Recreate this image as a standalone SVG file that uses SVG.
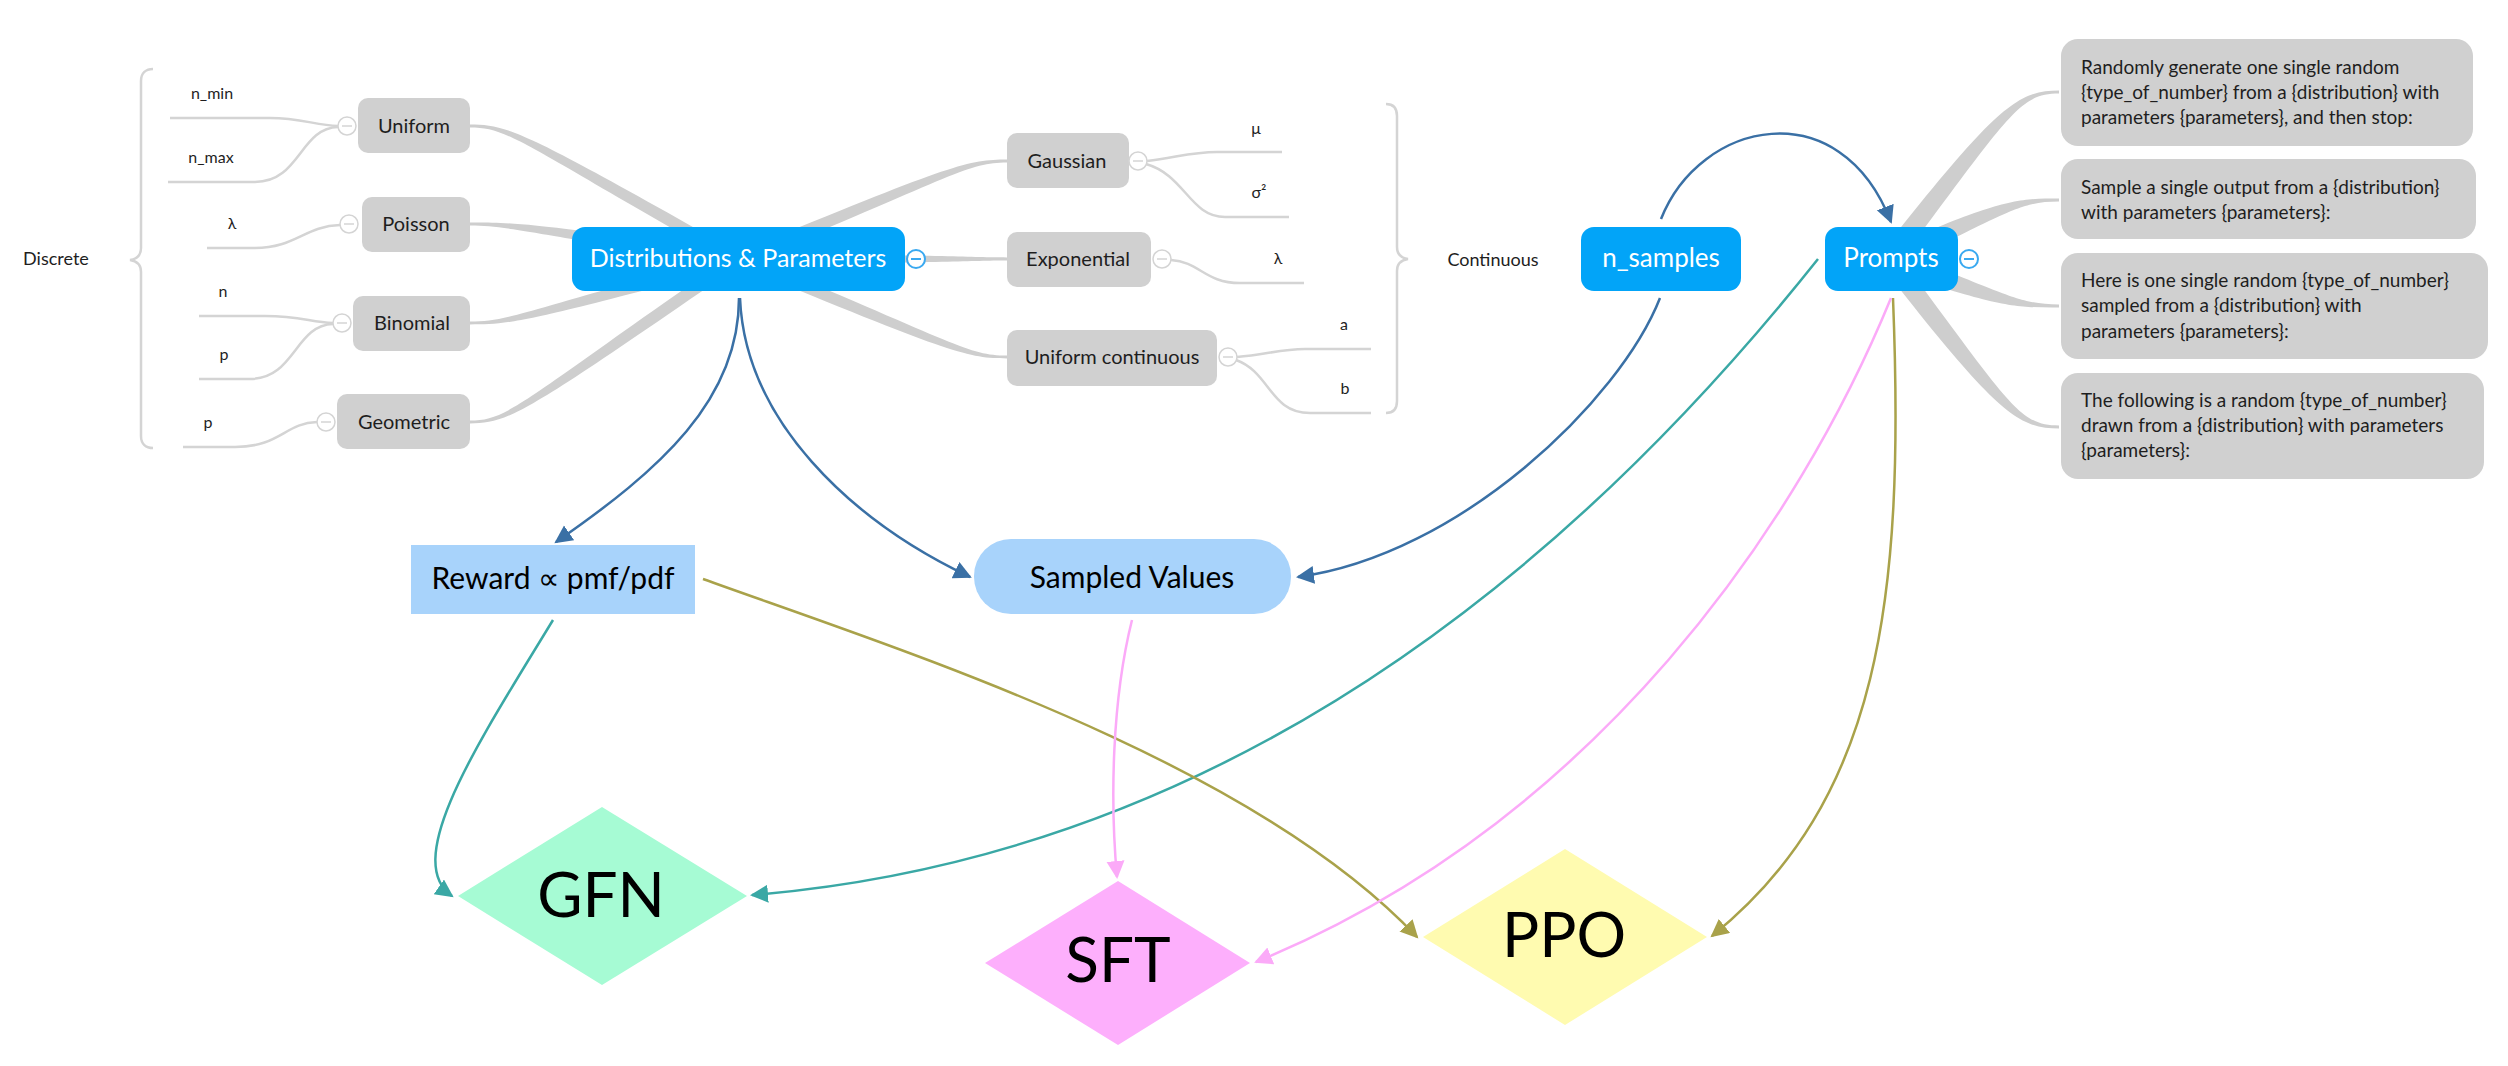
<svg xmlns="http://www.w3.org/2000/svg" width="2508" height="1066" viewBox="0 0 2508 1066">
<defs>
<style>
text { font-family: Lato, "Liberation Sans", sans-serif; }
.root { fill: #02a4f8; }
.rootT { fill: #ffffff; font-size: 26px; text-anchor: middle; }
.child { fill: #d0d0d0; }
.childT { fill: #1e1e1e; font-size: 20px; text-anchor: middle; }
.leafT { fill: #1e1e1e; font-size: 16px; text-anchor: middle; }
.sumT { fill: #1e1e1e; font-size: 18px; text-anchor: middle; }
.br { fill: #cecece; }
.leaf { fill: none; stroke: #d4d4d4; stroke-width: 2.5; }
.brace { fill: none; stroke: #d4d4d4; stroke-width: 2.5; }
.col { fill: #ffffff; stroke: #d4d4d4; stroke-width: 1.5; }
.colm { stroke: #d4d4d4; stroke-width: 1.5; }
.colB { fill: #ffffff; stroke: #3aa9f0; stroke-width: 2; }
.colBm { stroke: #3aa9f0; stroke-width: 2; }
.promptT { fill: #1e1e1e; font-size: 19px; }
.c { fill: none; stroke-width: 2.5; }
.blue { stroke: #3a70a5; }
.teal { stroke: #3aa8a5; }
.olive { stroke: #a9a24a; }
.pink { stroke: #fbaaf8; }
.bigT { fill: #000000; font-size: 62px; text-anchor: middle; }
.midT { fill: #000000; font-size: 30px; text-anchor: middle; }
</style>
<marker id="aBlue" markerUnits="userSpaceOnUse" markerWidth="20" markerHeight="20" refX="16" refY="9" orient="auto"><path d="M0,0 L18,9 L0,18 Z" fill="#3a70a5"/></marker>
<marker id="aTeal" markerUnits="userSpaceOnUse" markerWidth="20" markerHeight="20" refX="16" refY="9" orient="auto"><path d="M0,0 L18,9 L0,18 Z" fill="#3aa8a5"/></marker>
<marker id="aOlive" markerUnits="userSpaceOnUse" markerWidth="20" markerHeight="20" refX="16" refY="9" orient="auto"><path d="M0,0 L18,9 L0,18 Z" fill="#a9a24a"/></marker>
<marker id="aPink" markerUnits="userSpaceOnUse" markerWidth="20" markerHeight="20" refX="16" refY="9" orient="auto"><path d="M0,0 L18,9 L0,18 Z" fill="#fbaaf8"/></marker>
</defs>
<rect x="0" y="0" width="2508" height="1066" fill="#ffffff"/>

<g id="connectors">
  <g id="branches">
    <path class="br" d="M470,124.5 C510,124.5 527.95,133.77 740.95,253.77 L735.05,264.23 C522.05,144.23 510,127.5 470,127.5 Z"/>
    <path class="br" d="M470,222.5 C510,222.5 525.88,221.57 738.88,253.07 L737.12,264.93 C524.12,233.43 510,225.5 470,225.5 Z"/>
    <path class="br" d="M470,321.5 C510,321.5 523.43,310.81 736.43,253.21 L739.57,264.79 C526.57,322.39 510,324.5 470,324.5 Z"/>
    <path class="br" d="M470,420.5 C510,420.5 521.6,400.76 734.6,254.06 L741.4,263.94 C528.4,410.64 510,423.5 470,423.5 Z"/>
    <path class="br" d="M1007,159.5 C967,159.5 949.71,165.26 735.71,253.46 L740.29,264.54 C954.29,176.34 967,162.5 1007,162.5 Z"/>
    <path class="br" d="M1007,257.5 C967,257.5 952,255 738,254 L738,264 C952,263 967,260.5 1007,260.5 Z"/>
    <path class="br" d="M1007,355.5 C967,355.5 954.29,341.66 740.29,253.46 L735.71,264.54 C949.71,352.74 967,358.5 1007,358.5 Z"/>
    <path class="br" d="M2059,90.5 C2019,90.5 1997.65,103.84 1881.06,252.92 L1896.94,265.08 C2010.35,113.56 2019,93.5 2059,93.5 Z"/>
    <path class="br" d="M2059,198.5 C2019,198.5 2000.65,198.64 1884.81,249.92 L1893.19,268.08 C2007.35,213.16 2019,201.5 2059,201.5 Z"/>
    <path class="br" d="M2059,304.5 C2019,304.5 2006.76,293.79 1892.45,249.61 L1885.55,268.39 C2001.24,308.81 2019,307.5 2059,307.5 Z"/>
    <path class="br" d="M2059,425.5 C2019,425.5 2010.37,405.36 1896.96,252.95 L1881.04,265.05 C1997.63,415.04 2019,428.5 2059,428.5 Z"/>
  </g>
  <g id="leaf-lines">
    <path class="leaf" d="M170,118 L270,118 C300,118 315,125 338,126"/>
    <path class="leaf" d="M168,182 L255,182 C300,182 300,128 338,127"/>
    <path class="leaf" d="M207,248 L255,248 C295,248 305,226 340,225"/>
    <path class="leaf" d="M199,316 L265,316 C300,316 310,322 333,323"/>
    <path class="leaf" d="M199,379 L250,379 C295,379 295,325 333,324"/>
    <path class="leaf" d="M183,447 L235,447 C280,447 285,423 317,422"/>
    <path class="leaf" d="M1147,161 C1175,158 1190,152 1217,152 L1282,152"/>
    <path class="leaf" d="M1146,164 C1185,175 1190,217 1225,217 L1289,217"/>
    <path class="leaf" d="M1171,260 C1200,262 1205,283 1240,283 L1304,283"/>
    <path class="leaf" d="M1237,357 C1265,355 1280,349 1305,349 L1371,349"/>
    <path class="leaf" d="M1236,360 C1270,372 1270,413 1310,413 L1371,413"/>
  </g>
  <path class="c blue" marker-end="url(#aBlue)" d="M739,298 C739,400 660,470 556,542"/>
  <path class="c blue" marker-end="url(#aBlue)" d="M740,298 C745,420 850,520 970,577"/>
  <path class="c blue" marker-end="url(#aBlue)" d="M1661,219 C1700,120 1840,90 1891,222"/>
  <path class="c blue" marker-end="url(#aBlue)" d="M1660,298 C1620,400 1460,555 1298,577"/>
  <path class="c teal" marker-end="url(#aTeal)" d="M1818,259 C1650,470 1300,850 752,895"/>
  <path class="c teal" marker-end="url(#aTeal)" d="M553,620 C480,740 400,860 452,896"/>
  <path class="c olive" marker-end="url(#aOlive)" d="M703,579 C900,650 1250,760 1417,937"/>
  <path class="c olive" marker-end="url(#aOlive)" d="M1893,298 C1905,600 1880,800 1712,936"/>
  <path class="c pink" marker-end="url(#aPink)" d="M1132,620 C1112,700 1110,800 1117,877"/>
  <path class="c pink" marker-end="url(#aPink)" d="M1891,298 C1800,520 1600,820 1256,962"/>
</g>

<g id="discrete-summary">
  <path class="brace" d="M153,69 C146,69 141,73 141,81 L141,248 C141,255 137,259 130,260 C137,261 141,265 141,272 L141,436 C141,444 146,448 153,448"/>
  <text class="sumT" x="56" y="265">Discrete</text>
</g>
<g id="continuous-summary">
  <path class="brace" d="M1386,104 C1393,104 1397,108 1397,116 L1397,247 C1397,254 1401,258 1408,259 C1401,260 1397,264 1397,271 L1397,401 C1397,409 1393,413 1386,413"/>
  <text class="sumT" x="1493" y="266">Continuous</text>
</g>

<g id="node-distributions">
  <rect class="root" x="572" y="227" width="333" height="64" rx="13"/>
  <text class="rootT" x="738" y="267" style="font-size:25px">Distributions &amp; Parameters</text>
  <circle class="colB" cx="916" cy="259" r="9"/>
  <line class="colBm" x1="911" y1="259" x2="921" y2="259"/>
</g>

<g id="node-uniform">
  <rect class="child" x="358" y="98" width="112" height="55" rx="10"/>
  <text class="childT" x="414" y="133">Uniform</text>
  <circle class="col" cx="347" cy="126" r="9"/>
  <line class="colm" x1="342" y1="126" x2="352" y2="126"/>
</g>
<g id="node-poisson">
  <rect class="child" x="362" y="197" width="108" height="55" rx="10"/>
  <text class="childT" x="416" y="231">Poisson</text>
  <circle class="col" cx="349" cy="224" r="9"/>
  <line class="colm" x1="344" y1="224" x2="354" y2="224"/>
</g>
<g id="node-binomial">
  <rect class="child" x="353" y="296" width="117" height="55" rx="10"/>
  <text class="childT" x="412" y="330">Binomial</text>
  <circle class="col" cx="342" cy="323" r="9"/>
  <line class="colm" x1="337" y1="323" x2="347" y2="323"/>
</g>
<g id="node-geometric">
  <rect class="child" x="337" y="394" width="133" height="55" rx="10"/>
  <text class="childT" x="404" y="429">Geometric</text>
  <circle class="col" cx="326" cy="422" r="9"/>
  <line class="colm" x1="321" y1="422" x2="331" y2="422"/>
</g>
<g id="node-gaussian">
  <rect class="child" x="1007" y="133" width="122" height="55" rx="10"/>
  <text class="childT" x="1067" y="168">Gaussian</text>
  <circle class="col" cx="1138" cy="161" r="9"/>
  <line class="colm" x1="1133" y1="161" x2="1143" y2="161"/>
</g>
<g id="node-exponential">
  <rect class="child" x="1007" y="232" width="144" height="55" rx="10"/>
  <text class="childT" x="1078" y="266">Exponential</text>
  <circle class="col" cx="1162" cy="259" r="9"/>
  <line class="colm" x1="1157" y1="259" x2="1167" y2="259"/>
</g>
<g id="node-uniform-continuous">
  <rect class="child" x="1007" y="330" width="210" height="56" rx="10"/>
  <text class="childT" x="1112" y="364">Uniform continuous</text>
  <circle class="col" cx="1228" cy="357" r="9"/>
  <line class="colm" x1="1223" y1="357" x2="1233" y2="357"/>
</g>

<g id="leaf-n-min"><text class="leafT" x="212" y="99">n_min</text></g>
<g id="leaf-n-max"><text class="leafT" x="211" y="163">n_max</text></g>
<g id="leaf-poisson-lambda"><text class="leafT" x="232" y="229">λ</text></g>
<g id="leaf-binomial-n"><text class="leafT" x="223" y="297">n</text></g>
<g id="leaf-binomial-p"><text class="leafT" x="224" y="360">p</text></g>
<g id="leaf-geometric-p"><text class="leafT" x="208" y="428">p</text></g>
<g id="leaf-mu"><text class="leafT" x="1256" y="134">μ</text></g>
<g id="leaf-sigma2"><text class="leafT" x="1259" y="198">σ²</text></g>
<g id="leaf-exp-lambda"><text class="leafT" x="1278" y="264">λ</text></g>
<g id="leaf-a"><text class="leafT" x="1344" y="330">a</text></g>
<g id="leaf-b"><text class="leafT" x="1345" y="394">b</text></g>

<g id="node-n-samples">
  <rect class="root" x="1581" y="227" width="160" height="64" rx="13"/>
  <text class="rootT" x="1661" y="267">n_samples</text>
</g>

<g id="node-prompts">
  <rect class="root" x="1825" y="227" width="133" height="64" rx="13"/>
  <text class="rootT" x="1891" y="267">Prompts</text>
  <circle class="colB" cx="1969" cy="259" r="9"/>
  <line class="colBm" x1="1964" y1="259" x2="1974" y2="259"/>
</g>

<g id="node-prompt-1">
  <rect class="child" x="2061" y="39" width="412" height="107" rx="17"/>
  <text class="promptT" x="2081" y="74">Randomly generate one single random</text>
  <text class="promptT" x="2081" y="99">{type_of_number} from a {distribution} with</text>
  <text class="promptT" x="2081" y="124">parameters {parameters}, and then stop:</text>
</g>
<g id="node-prompt-2">
  <rect class="child" x="2061" y="159" width="415" height="80" rx="17"/>
  <text class="promptT" x="2081" y="194">Sample a single output from a {distribution}</text>
  <text class="promptT" x="2081" y="219">with parameters {parameters}:</text>
</g>
<g id="node-prompt-3">
  <rect class="child" x="2061" y="253" width="427" height="106" rx="17"/>
  <text class="promptT" x="2081" y="287">Here is one single random {type_of_number}</text>
  <text class="promptT" x="2081" y="312">sampled from a {distribution} with</text>
  <text class="promptT" x="2081" y="338">parameters {parameters}:</text>
</g>
<g id="node-prompt-4">
  <rect class="child" x="2061" y="373" width="423" height="106" rx="17"/>
  <text class="promptT" x="2081" y="407">The following is a random {type_of_number}</text>
  <text class="promptT" x="2081" y="432">drawn from a {distribution} with parameters</text>
  <text class="promptT" x="2081" y="457">{parameters}:</text>
</g>

<g id="node-reward">
  <rect x="411" y="545" width="284" height="69" fill="#a8d3fb"/>
  <text class="midT" x="553" y="589">Reward ∝ pmf/pdf</text>
</g>
<g id="node-sampled-values">
  <rect x="974" y="539" width="317" height="75" rx="37" fill="#a8d3fb"/>
  <text class="midT" x="1132" y="588">Sampled Values</text>
</g>

<g id="node-gfn">
  <polygon points="458,896 602,807 747,896 602,985" fill="#a6fbd4"/>
  <text class="bigT" x="601" y="917">GFN</text>
</g>
<g id="node-sft">
  <polygon points="985,963 1118,881 1250,963 1118,1045" fill="#fdaffc"/>
  <text class="bigT" x="1118" y="982">SFT</text>
</g>
<g id="node-ppo">
  <polygon points="1423,937 1565,849 1707,937 1565,1025" fill="#fffbb0"/>
  <text class="bigT" x="1564" y="957">PPO</text>
</g>
</svg>
